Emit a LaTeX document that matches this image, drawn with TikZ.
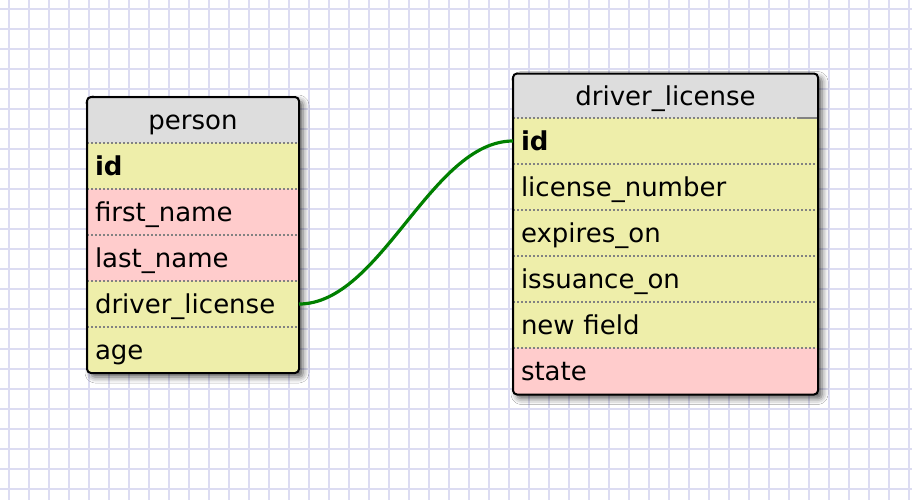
\documentclass[tikz,border=0pt]{standalone}
\usepackage{fontspec}
\setmainfont{DejaVu Sans}
\usetikzlibrary{shadows.blur}
\definecolor{gridc}{RGB}{220,220,242}
\definecolor{hdr}{RGB}{221,221,221}
\definecolor{yel}{RGB}{238,238,170}
\definecolor{pnk}{RGB}{255,204,204}
\definecolor{lnk}{RGB}{0,128,0}
\definecolor{sepc}{RGB}{130,130,130}
\begin{document}
\begin{tikzpicture}[x=0.75pt,y=-0.75pt,
  gridline/.style={draw=gridc,line width=1.5pt},
  tbl/.style={fill=white, inner sep=0pt, outer sep=0pt, rounded corners=3pt,
    blur shadow={shadow xshift=3pt,shadow yshift=-3pt,shadow blur radius=4.5pt,shadow opacity=65}},
  border/.style={draw=black, line width=1.5pt, rounded corners=3pt},
  cell/.style={inner xsep=6pt, inner ysep=0pt, outer sep=0pt, text height=14.25pt, text depth=0pt,
    font=\fontsize{19.5}{23}\selectfont},
  pcell/.style={cell, minimum width=159pt, minimum height=34.5pt, text width=147pt},
  dcell/.style={cell, minimum width=228.75pt, minimum height=34.5pt, text width=216.75pt},
  left/.style={align=left},
  mid/.style={align=center},
  sep/.style={draw=sepc, line width=1.1pt, dash pattern=on 1.5pt off 1.5pt},
  link/.style={draw=lnk, line width=2.4pt}
]
\useasboundingbox (0,0) rectangle (912,500);
\fill[white] (0,0) rectangle (912,500);
\foreach \i in {0,...,45} \draw[gridline] ({9+20*\i},0) -- ({9+20*\i},500);
\foreach \j in {0,...,24} \draw[gridline] (0,{9+20*\j}) -- (912,{9+20*\j});

% person table
\node[tbl, minimum width=159pt, minimum height=207pt] (person) at (193,235) {};
\begin{scope}
\clip[rounded corners=3pt] (person.north west) rectangle (person.south east);
\node[pcell, mid, fill=hdr] (p-head) at (193,120) {person};
\node[pcell, left, fill=yel] (p-id) at (193,166) {\textbf{id}};
\node[pcell, left, fill=pnk] (p-fn) at (193,212) {first\_name};
\node[pcell, left, fill=pnk] (p-ln) at (193,258) {last\_name};
\node[pcell, left, fill=yel] (p-dl) at (193,304) {driver\_license};
\node[pcell, left, fill=yel] (p-age) at (193,350) {age};
\end{scope}
\foreach \r in {p-id,p-fn,p-ln,p-dl,p-age} \draw[sep] (\r.north west) -- (\r.north east);
\draw[border] (person.north west) rectangle (person.south east);

% driver_license table
\node[tbl, minimum width=228.75pt, minimum height=240.75pt] (dl) at (665.5,234) {};
\begin{scope}
\clip[rounded corners=3pt] (dl.north west) rectangle (dl.south east);
\node[dcell, mid, fill=hdr, minimum height=33.75pt] (d-head) at (665.5,95.5) {driver\_license};
\node[dcell, left, fill=yel] (d-id) at (665.5,141) {\textbf{id}};
\node[dcell, left, fill=yel] (d-num) at (665.5,187) {license\_number};
\node[dcell, left, fill=yel] (d-exp) at (665.5,233) {expires\_on};
\node[dcell, left, fill=yel] (d-iss) at (665.5,279) {issuance\_on};
\node[dcell, left, fill=yel] (d-new) at (665.5,325) {new field};
\node[dcell, left, fill=pnk] (d-st) at (665.5,371) {state};
\end{scope}
\foreach \r in {d-id,d-num,d-exp,d-iss,d-new,d-st} \draw[sep] (\r.north west) -- (\r.north east);
\draw[draw=sepc, line width=1.1pt] ([xshift=-15pt]d-id.north east) -- (d-id.north east);
\draw[border] (dl.north west) rectangle (dl.south east);

% relation
\draw[link] (p-dl.east) .. controls +(82,0) and +(-82,0) .. (d-id.west);
\end{tikzpicture}
\end{document}
